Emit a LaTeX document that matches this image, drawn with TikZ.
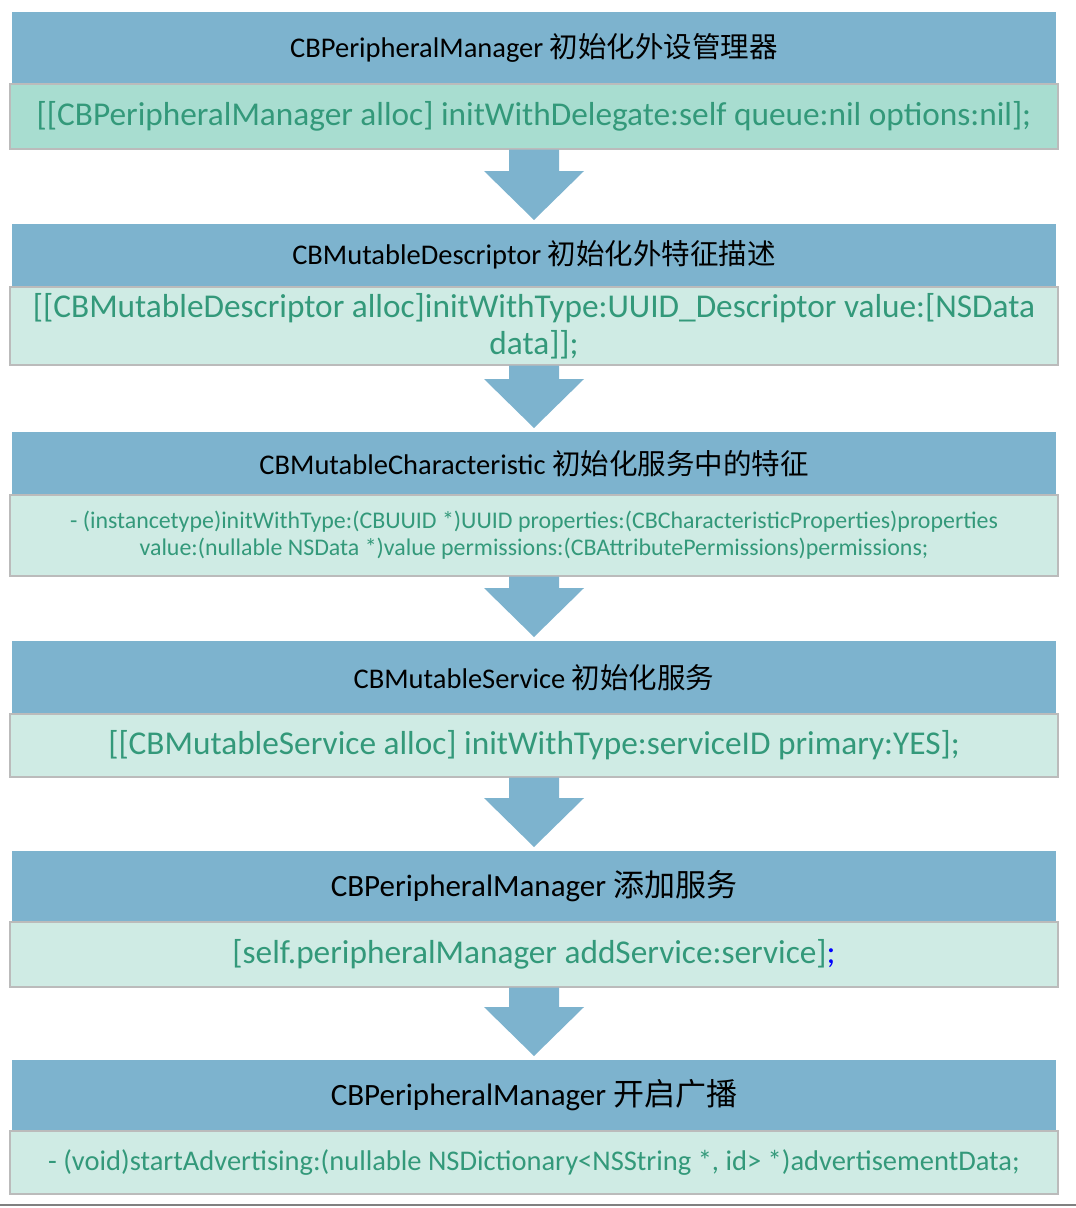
\documentclass[tikz,border=0pt]{standalone}
\usepackage{fontspec}
\setmainfont{Carlito}
\newfontfamily\cjk{Noto Sans CJK SC}
\usepackage{xcolor}
\usetikzlibrary{positioning,calc}

\definecolor{hdrblue}{HTML}{7DB3CE}
\definecolor{mintA}{HTML}{A8DDD0}
\definecolor{mintB}{HTML}{CFEBE4}
\definecolor{codegreen}{HTML}{33997A}
\definecolor{framegray}{HTML}{BBBBBB}

\tikzset{
    header/.style={fill=hdrblue, anchor=north, minimum width=1044pt, inner sep=0pt,
        text=black, font=\fontsize{28.5}{33}\selectfont},
    codebox/.style={fill=mintB, draw=framegray, line width=1.5pt, anchor=north,
        minimum width=1048pt, inner sep=0pt, text=codegreen, align=center,
        font=\fontsize{33.3}{37}\selectfont},
    arrowfill/.style={fill=hdrblue}
}

% block arrow from the code box to the next header
\newcommand{\flowarrow}[2]{%
    \fill[arrowfill] ($(#1.south)+(-25,0)$) -- ($(#2.north)+(-25,-53)$) -- ($(#2.north)+(-50,-53)$)
        -- ($(#2.north)+(0,-4)$) -- ($(#2.north)+(50,-53)$) -- ($(#2.north)+(25,-53)$)
        -- ($(#1.south)+(25,0)$) -- cycle;}

\begin{document}
\begin{tikzpicture}[x=1pt, y=-1pt]
    \useasboundingbox (0,0) rectangle (1076,1208);

    % step 1
    \node[header, minimum height=71pt] (hdr1) at (534,12) {CBPeripheralManager {\cjk 初始化外设管理器}};
    \node[codebox, fill=mintA, minimum height=65pt] (code1) at (534,83)
        {[[CBPeripheralManager alloc] initWithDelegate:self queue:nil options:nil];};

    % step 2
    \node[header, minimum height=62pt] (hdr2) at (534,224) {CBMutableDescriptor {\cjk 初始化外特征描述}};
    \node[codebox, minimum height=78pt] (code2) at (534,286)
        {[[CBMutableDescriptor alloc]initWithType:UUID\_Descriptor value:[NSData\\ data]];};

    % step 3
    \node[header, minimum height=62pt] (hdr3) at (534,432) {CBMutableCharacteristic {\cjk 初始化服务中的特征}};
    \node[codebox, minimum height=81pt, font=\fontsize{23.9}{27}\selectfont] (code3) at (534,494)
        {- (instancetype)initWithType:(CBUUID *)UUID properties:(CBCharacteristicProperties)properties\\
         value:(nullable NSData *)value permissions:(CBAttributePermissions)permissions;};

    % step 4
    \node[header, minimum height=72pt] (hdr4) at (534,641) {CBMutableService {\cjk 初始化服务}};
    \node[codebox, minimum height=63pt] (code4) at (534,713)
        {[[CBMutableService alloc] initWithType:serviceID primary:YES];};

    % step 5
    \node[header, minimum height=70pt, font=\fontsize{31}{36}\selectfont] (hdr5) at (534,851) {CBPeripheralManager {\cjk 添加服务}};
    \node[codebox, minimum height=65pt] (code5) at (534,921)
        {[self.peripheralManager addService:service]\textcolor{blue}{;}};

    % step 6
    \node[header, minimum height=70pt, font=\fontsize{31}{36}\selectfont] (hdr6) at (534,1060) {CBPeripheralManager {\cjk 开启广播}};
    \node[codebox, minimum height=63pt, font=\fontsize{28.5}{33}\selectfont] (code6) at (534,1130)
        {- (void)startAdvertising:(nullable NSDictionary<NSString *, id> *)advertisementData;};

    % arrows
    \flowarrow{code1}{hdr2}
    \flowarrow{code2}{hdr3}
    \flowarrow{code3}{hdr4}
    \flowarrow{code4}{hdr5}
    \flowarrow{code5}{hdr6}

    \draw[gray, line width=2pt] (0,1205) -- (1076,1205);
\end{tikzpicture}
\end{document}
